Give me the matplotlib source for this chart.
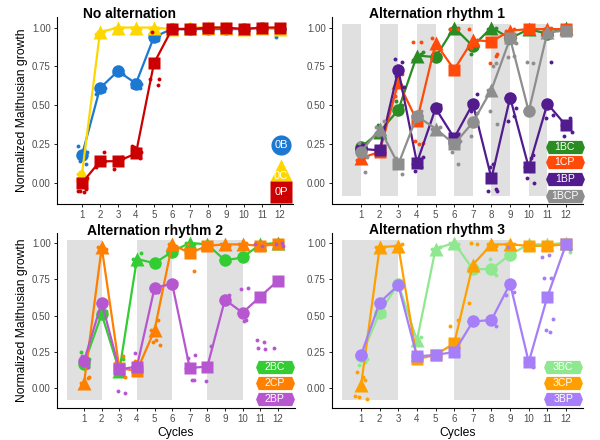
import numpy as np
import matplotlib
matplotlib.use("Agg")
from matplotlib import pyplot as plt
from matplotlib.path import Path

plt.rcParams["font.family"] = ["Liberation Sans", "DejaVu Sans"]

cycles = list(range(1, 13))

# ---- No alternation ----
m0B = [0.18, 0.61, 0.72, 0.64, 0.94, 0.99, 0.99, 0.99, 0.99, 0.99, 1.00, 0.99]
m0C = [0.06, 0.97, 1.00, 1.00, 1.00, 0.99, 1.00, 1.00, 1.00, 0.99, 1.00, 0.99]
m0P = [0.00, 0.14, 0.14, 0.19, 0.77, 0.99, 0.99, 1.00, 1.00, 0.99, 1.00, 1.00]
r0B = [[0.24, 0.12, 0.14, 0.20, 0.22], [0.57, 0.59, 0.63, 0.61, 0.60], [0.71, 0.73, 0.72, 0.70, 0.73],
       [0.62, 0.61, 0.66, 0.64, 0.62], [0.96, 0.92, 0.97, 0.95, 0.93], [0.98, 0.99, 0.97, 1.00],
       [0.97, 0.99, 0.98, 1.00], [0.98, 0.99, 0.97], [0.98, 0.99, 1.00], [0.98, 0.99, 0.97],
       [0.99, 1.00, 0.98], [0.94, 0.99, 0.98]]
r0C = [[0.06, 0.04, 0.07], [0.96, 0.98, 0.97], [1.00, 1.00, 0.99], [1.00, 0.99, 1.00], [1.00, 1.00, 0.99],
       [0.99, 1.00], [1.00, 0.99], [1.00, 0.99], [1.00, 1.00], [0.99, 1.00], [1.00, 0.99], [0.99, 0.98]]
r0P = [[-0.05, -0.04, -0.05, 0.03, -0.06], [0.10, 0.20, 0.12, 0.14], [0.09, 0.17, 0.12, 0.16],
       [0.24, 0.16, 0.23, 0.20, 0.22], [0.67, 0.63, 0.97, 0.67], [0.98, 1.00, 0.99], [0.99, 0.98, 1.00],
       [1.00, 0.99], [1.00, 0.99], [0.99, 0.98], [1.00, 0.99], [1.00, 0.99]]

# ---- Alternation rhythm 1 ----
m1BC = [0.23, 0.33, 0.47, 0.82, 0.81, 1.00, 0.88, 1.00, 0.93, 0.99, 0.96, 1.00]
m1CP = [0.16, 0.20, 0.65, 0.40, 0.90, 0.73, 0.92, 0.91, 0.98, 0.99, 0.99, 0.99]
m1BP = [0.22, 0.21, 0.73, 0.13, 0.48, 0.29, 0.51, 0.03, 0.55, 0.10, 0.51, 0.37]
m1BCP = [0.20, 0.35, 0.12, 0.43, 0.35, 0.25, 0.39, 0.60, 0.93, 0.46, 0.97, 0.98]
r1BC = [[0.23, 0.22, 0.24], [0.32, 0.35, 0.37], [0.46, 0.50, 0.53], [0.79, 0.83, 0.80, 0.84],
        [0.80, 0.82, 0.83], [0.99, 1.00, 1.00], [0.87, 0.89, 0.83], [0.99, 1.00, 0.98],
        [0.92, 0.95, 0.90], [0.99, 1.00], [0.95, 0.97], [1.00, 0.99]]
r1CP = [[0.15, 0.17, 0.16], [0.20, 0.19, 0.22], [0.56, 0.70, 0.62, 0.55], [0.91, 0.91, 0.27, 0.26, 0.25],
        [0.93, 0.86, 0.89], [0.99, 0.99, 0.26], [0.99, 0.92, 0.87], [0.91, 0.82, 0.77, 0.83],
        [0.98, 0.99], [0.99, 0.98], [0.99, 1.00], [0.99, 0.98]]
r1BP = [[0.22, 0.23, 0.21], [0.21, 0.20, 0.23], [0.80, 0.78, 0.69, 0.62], [0.12, 0.10, 0.08, 0.17],
        [0.48, 0.50, 0.47], [0.29, 0.31, 0.25], [0.52, 0.57, 0.46], [-0.05, -0.04, 0.10, -0.05, 0.12],
        [0.55, 0.43, 0.40, 0.48], [0.10, 0.18, 0.03, 0.00, 0.16], [0.51, 0.78, 0.42, 0.44],
        [0.37, 0.42, 0.30, 0.33]]
r1BCP = [[0.20, 0.07, 0.26, 0.17], [0.36, 0.40, 0.31], [0.12, 0.06, 0.16], [0.43, 0.46, 0.40],
         [0.35, 0.36, 0.32], [0.25, 0.12, 0.20, 0.27], [0.39, 0.45, 0.30], [0.60, 0.77, 0.46, 0.38, 0.75],
         [0.93, 0.82, 0.81, 0.90], [0.46, 0.77, 0.78], [0.97, 0.96], [0.98, 0.97]]

# ---- Alternation rhythm 2 ----
m2BC = [0.17, 0.51, 0.12, 0.89, 0.86, 0.94, 1.00, 0.99, 0.88, 0.90, 0.99, 1.00]
m2CP = [0.04, 0.97, 0.14, 0.12, 0.40, 0.99, 0.93, 0.98, 0.99, 0.99, 0.98, 0.99]
m2BP = [0.19, 0.59, 0.13, 0.15, 0.69, 0.72, 0.14, 0.15, 0.61, 0.52, 0.63, 0.74]
r2BC = [[0.25, 0.15, 0.17, 0.20], [0.51, 0.53, 0.49], [0.10, 0.20, 0.12], [0.89, 0.93, 0.84],
        [0.86, 0.84, 0.88], [0.94, 0.95], [1.00, 0.99], [0.99, 1.00], [0.88, 0.87], [0.90, 0.91],
        [0.99, 1.00], [1.00, 1.01]]
r2CP = [[0.04, 0.07, 0.02, 0.08], [0.97, 0.96], [0.18, 0.22, 0.15, 0.08], [0.12, 0.13, 0.19],
        [0.40, 0.47, 0.32, 0.30, 0.33], [0.99, 0.98], [0.93, 0.81, 0.99], [0.98, 0.99], [0.99, 0.98],
        [0.99, 1.00], [0.98, 0.97], [0.99, 0.98]]
r2BP = [[0.19, 0.15, 0.22], [0.59, 0.60, 0.57], [0.13, 0.10, -0.02, -0.03], [0.15, 0.12, 0.24],
        [0.69, 0.66, 0.68], [0.72, 0.73], [0.14, 0.06, 0.21, 0.23, 0.06], [0.15, 0.29, 0.05],
        [0.61, 0.64, 0.60], [0.52, 0.47, 0.68, 0.69, 0.46], [0.33, 0.32, 0.28, 0.27, 0.98, 0.99],
        [0.28, 1.00, 0.99, 0.98]]

# ---- Alternation rhythm 3 ----
m3BC = [0.22, 0.52, 0.72, 0.33, 0.96, 1.00, 0.82, 0.82, 0.92, 0.99, 0.99, 1.00]
m3CP = [0.02, 0.97, 0.98, 0.20, 0.23, 0.31, 0.85, 0.99, 0.99, 0.98, 0.98, 0.99]
m3BP = [0.23, 0.59, 0.71, 0.22, 0.23, 0.25, 0.46, 0.47, 0.72, 0.18, 0.63, 0.99]
r3BC = [[0.22, 0.18, 0.16, 0.20], [0.52, 0.50, 0.54], [0.72, 0.74], [0.33, 0.35], [0.96, 0.97],
        [1.00, 0.99], [0.82, 0.83, 0.81], [0.82, 0.78, 0.89], [0.92, 0.90], [0.99, 0.98],
        [0.99, 1.00], [1.00, 0.94]]
r3CP = [[0.11, 0.06, -0.06, -0.07, 0.08, -0.05], [0.97, 0.97], [0.98, 0.99], [0.19, 0.20], [0.23, 0.22],
        [0.43, 0.47, 0.31], [0.59, 0.99, 1.00], [0.99, 0.98], [0.99, 0.99], [0.98, 0.99],
        [0.98, 0.99], [0.99, 1.00]]
r3BP = [[0.23, 0.22, 0.21], [0.59, 0.60], [0.71, 0.72], [0.22, 0.21], [0.23, 0.24], [0.25, 0.23],
        [0.46, 0.45, 0.44], [0.47, 0.43, 0.46], [0.64, 0.66, 0.97], [0.18, 0.15, 0.19],
        [0.76, 0.76, 0.40, 0.48, 0.92, 0.90, 0.39], [0.99, 0.96, 1.00]]

# environment of each cycle (B = circle, C = triangle, P = square)
env = {
    "0B": "BBBBBBBBBBBB", "0C": "CCCCCCCCCCCC", "0P": "PPPPPPPPPPPP",
    "1BC": "BCBCBCBCBCBC", "1CP": "CPCPCPCPCPCP", "1BP": "BPBPBPBPBPBP", "1BCP": "BCPBCPBCPBCP",
    "2BC": "BBCCBBCCBBCC", "2CP": "CCPPCCPPCCPP", "2BP": "BBPPBBPPBBPP",
    "3BC": "BBBCCCBBBCCC", "3CP": "CCCPPPCCCPPP", "3BP": "BBBPPPBBBPPP",
}
shaded = {1: [1, 3, 5, 7, 9, 11], 2: [1, 2, 5, 6, 9, 10], 3: [1, 2, 3, 7, 8, 9]}

colors = {
    "0B": "#1C78D0", "0C": "#FFD700", "0P": "#CC0000",
    "1BC": "#2A8C22", "1CP": "#FF4A0A", "1BP": "#521B8E", "1BCP": "#8E8E8E",
    "2BC": "#33CC33", "2CP": "#FF7F00", "2BP": "#B757D0",
    "3BC": "#8FE88F", "3CP": "#FFA000", "3BP": "#A57EF8",
}

panels = [
    ("No alternation", ["0B", "0C", "0P"], [m0B, m0C, m0P], [r0B, r0C, r0P]),
    ("Alternation rhythm 1", ["1BC", "1CP", "1BP", "1BCP"], [m1BC, m1CP, m1BP, m1BCP], [r1BC, r1CP, r1BP, r1BCP]),
    ("Alternation rhythm 2", ["2BC", "2CP", "2BP"], [m2BC, m2CP, m2BP], [r2BC, r2CP, r2BP]),
    ("Alternation rhythm 3", ["3BC", "3CP", "3BP"], [m3BC, m3CP, m3BP], [r3BC, r3CP, r3BP]),
]

# layout (figure fractions) and x-limits per panel
boxes = [[0.095, 0.5364, 0.393, 0.425], [0.5533, 0.5364, 0.4183, 0.425],
         [0.095, 0.0727, 0.3967, 0.3977], [0.5533, 0.0727, 0.4183, 0.3977]]
xlims = [(-0.39, 12.72), (-0.56, 12.91), (-0.54, 12.98), (-0.56, 12.91)]
title_x = [83, 369, 87, 369]
title_y = [14, 14, 231, 230]
badge_x = [12.06, 11.94, 11.83, 11.84]
badge_y = [[0.242, 0.083, -0.057], [0.232, 0.132, 0.025, -0.082],
           [0.15, 0.04, -0.07], [0.15, 0.04, -0.07]]

mk = {"B": "o", "C": "^", "P": "s"}
mks = {"B": 9, "C": 9.5, "P": 8}
jit = [-0.2, 0.22, -0.1, 0.3, 0.1, -0.3, 0.15]

hexv = [(-1, 0), (-0.86, 0.34), (0.86, 0.34), (1, 0), (0.86, -0.34), (-0.86, -0.34), (-1, 0)]
hexagon = Path(hexv, [Path.MOVETO] + [Path.LINETO] * 5 + [Path.CLOSEPOLY])

fig = plt.figure(figsize=(6, 4.4), dpi=100)

for k, (title, names, means, reps) in enumerate(panels):
    ax = fig.add_axes(boxes[k])
    if k in shaded:
        for c in shaded[k]:
            ax.fill_between([c - 1, c], -0.083, 1.02, color="#E0E0E0", lw=0, zorder=0)
    for s, (nm, m, r) in enumerate(zip(names, means, reps)):
        col = colors[nm]
        z = 2 + s * 3
        for i, vals in enumerate(r):
            xs = [cycles[i] + jit[j % len(jit)] for j in range(len(vals))]
            ax.plot(xs, vals, "o", color=col, ms=2.8, mec="none", zorder=z)
        ax.plot(cycles, m, "-", color=col, lw=1.6, zorder=z + 1)
        for e in "BCP":
            idx = [i for i, ch in enumerate(env[nm]) if ch == e]
            if idx:
                ax.plot([cycles[i] for i in idx], [m[i] for i in idx], ls="none",
                        marker=mk[e], ms=mks[e], color=col, mec="none", zorder=z + 2)
        # label badges
        bx, by = badge_x[k], badge_y[k][s]
        if k == 0:
            shp = env[nm][0]
            size = {"B": 14.5, "C": 16.5, "P": 15.5}[shp]
            ax.plot([bx], [by], marker=mk[shp], ms=size, color=col, mec="none",
                    clip_on=False, zorder=30)
            ty = by - 0.035 if shp == "C" else by
            ax.text(bx, ty, nm, color="white", fontsize=8, ha="center", va="center",
                    zorder=31)
        else:
            ax.plot([bx], [by], marker=hexagon, ms=28, color=col, mec="none",
                    clip_on=False, zorder=30)
            ax.text(bx, by, nm, color="white", fontsize=7.6, ha="center", va="center",
                    zorder=31)

    ax.set_xlim(*xlims[k])
    ax.set_ylim(-0.135, 1.068)
    ax.set_xticks(cycles)
    ax.set_yticks([0, 0.25, 0.5, 0.75, 1.0])
    ax.set_yticklabels(["0.00", "0.25", "0.50", "0.75", "1.00"])
    ax.tick_params(labelsize=7, labelcolor="#4D4D4D", length=2.5, width=0.6, pad=2)
    for sp in ["top", "right"]:
        ax.spines[sp].set_visible(False)
    for sp in ["left", "bottom"]:
        ax.spines[sp].set_linewidth(0.8)
    if k in (0, 2):
        ax.set_ylabel("Normalized Malthusian growth", fontsize=8.7, labelpad=3)
    if k in (2, 3):
        ax.set_xlabel("Cycles", fontsize=8.7, labelpad=2)
    fig.text(title_x[k] / 600, 1 - title_y[k] / 440, title, fontsize=10, fontweight="bold",
             ha="left", va="center")

fig.savefig("out.png", dpi=100)
